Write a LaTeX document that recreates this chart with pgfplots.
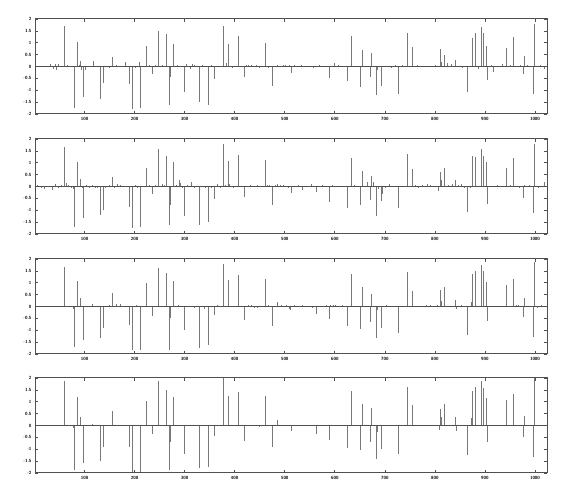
\documentclass[border=0pt]{standalone}
\usepackage{pgfplots}
\pgfplotsset{compat=1.18}
\definecolor{stem}{RGB}{120,120,120}
\definecolor{frame}{RGB}{80,80,80}
\pgfplotsset{
  panel/.style={
    anchor=south west,
    scale only axis,
    width=512pt, height=95pt,
    xmin=1, xmax=1024, ymin=-2, ymax=2,
    xtick={100,200,...,1000},
    ytick={-2,-1.5,...,2},
    tick label style={font=\fontsize{4.5}{5}\selectfont\sffamily\bfseries,
                      /pgf/number format/assume math mode=true},
    yticklabel style={/pgf/number format/fixed},
    xticklabel style={/pgf/number format/1000 sep={}},
    tick align=inside,
    major tick length=3pt,
    axis line style={frame, line width=1pt},
    tick style={frame, line width=0.6pt},
    clip=true,
  },
  stems/.style={ycomb, stem, line width=0.6pt, mark=none},
  base/.style={sharp plot, frame, line width=0.8pt, mark=none},
}
\begin{document}
\begin{tikzpicture}
\path (0,0) rectangle (570pt,483pt);

% ---- panel 1 ----
\begin{axis}[panel, at={(35pt,369pt)}]
\addplot[stems] coordinates {
(31,0.12) (37,-0.1) (41,0.12) (44,-0.15) (47,0.12) (59,1.71) (66,0.05)
(79,-1.74) (85,1.03) (89,0.06) (91,0.25) (93,-0.15) (97,-1.28) (101,-0.15)
(117,0.25) (124,0.04) (131,-1.35) (137,-0.71) (143,0.04) (150,-0.05) (155,0.42)
(163,0.05) (170,-0.04) (181,0.2) (189,-0.75) (195,-1.79) (202,-0.05) (209,0.18)
(211,-1.74) (223,0.88) (229,0.06) (235,-0.3) (241,0.05) (247,1.5) (255,0.05)
(263,1.36) (269,-1.64) (271,-0.45) (277,0.94) (285,0.05) (291,0.04)
(299,-1.07) (303,0.12) (311,-0.1) (315,0.1) (320,0.05) (329,-1.5) (335,0.05)
(341,0.04) (347,-1.64) (353,0.05) (359,-0.54) (365,0.04) (371,-0.04)
(377,1.69) (383,0.15) (387,0.94) (395,-0.05) (401,0.04) (407,1.28)
(419,-0.44) (423,0.07) (428,0.07) (433,0.07) (443,0.07) (450,-0.05)
(461,1.01) (468,-0.05) (476,-0.83) (485,0.05) (497,0.05) (501,0.05) (509,0.05)
(513,-0.28) (520,0.05) (533,0.05) (545,0.04) (557,-0.05) (569,0.05)
(583,0.04) (589,-0.49) (600,0.14) (606,0.05) (615,0.04) (624,-0.63)
(633,1.29) (641,0.04) (650,-0.86) (655,0.69) (661,0.04) (671,-0.46) (672,0.57)
(683,-1.19) (685,-0.15) (693,-0.82) (703,0.04) (712,-0.05) (720,0.05)
(726,-1.15) (734,0.05) (744,1.4) (754,0.81) (764,0.05) (775,0.04) (790,0.04)
(800,0.05) (811,0.74) (812,0.2) (819,0.49) (825,0.15) (832,0.1) (841,0.28)
(847,0.04) (855,-0.05) (865,-1.07) (870,0.04) (875,1.21) (881,1.4) (887,-0.1)
(893,1.67) (897,1.4) (903,0.85) (905,-0.56) (913,0.05) (917,-0.24) (926,0.04)
(934,0.12) (943,0.79) (950,0.05) (957,1.25) (965,0.04) (971,0.05)
(977,-0.32) (979,0.46) (985,0.05) (997,-1.17) (999,1.81) (1010,0.05)
(1019,-0.1)
};
\addplot[base] coordinates {(1,0) (1024,0)};
\end{axis}

% ---- panel 2 ----
\begin{axis}[panel, at={(35pt,249pt)}]
\addplot[stems] coordinates {
(5,0.05) (13,-0.06) (20,-0.1) (27,0.04) (35,-0.15) (41,0.1) (47,-0.08)
(53,0.05) (59,1.68) (63,0.15) (67,0.05) (73,-0.05) (77,-0.1) (79,-1.69)
(85,1.03) (91,0.31) (95,-0.06) (97,-1.34) (103,0.05) (109,-0.05) (115,0.06)
(121,-0.05) (125,-0.06) (131,-1.22) (137,-0.97) (141,-0.05) (149,0.05)
(155,0.39) (160,-0.06) (165,0.1) (171,0.05) (177,0.04) (183,-0.04) (189,-0.87)
(195,-1.73) (201,0.05) (205,-0.05) (211,-1.71) (217,-0.04) (223,0.78)
(229,0.05) (235,-0.31) (241,0.06) (247,1.59) (255,0.1) (259,0.05) (263,1.3)
(269,-1.62) (271,-0.76) (277,1.02) (283,0.05) (289,0.28) (291,0.15)
(295,-0.05) (299,-1.23) (305,0.05) (313,0.2) (320,-0.05) (329,-1.61)
(335,0.04) (341,-0.05) (347,-1.48) (353,-0.05) (359,-0.52) (365,0.1)
(371,-0.05) (377,1.8) (381,0.05) (387,1.06) (389,0.1) (397,-0.05) (407,1.31)
(413,0.04) (419,-0.43) (425,0.04) (431,0.05) (437,-0.04) (445,0.05)
(452,0.04) (461,1.12) (466,0.05) (470,0.05) (476,-0.77) (481,0.05) (485,0.12)
(491,0.05) (497,0.06) (503,0.04) (507,-0.05) (513,-0.27) (520,-0.04)
(527,0.05) (535,-0.15) (545,0.04) (553,0.1) (563,-0.25) (570,0.04)
(576,0.05) (583,-0.04) (589,-0.64) (595,0.05) (605,0.04) (615,-0.04)
(625,-0.9) (633,1.2) (639,0.05) (651,-0.8) (655,0.67) (665,0.2) (671,-0.57)
(672,0.45) (677,0.2) (683,-1.24) (687,-0.1) (693,-0.6) (695,-0.3) (701,-0.05)
(709,0.1) (715,0.04) (726,-0.92) (735,0.04) (744,1.36) (755,0.73) (761,0.05)
(767,-0.05) (775,0.05) (785,0.1) (791,0.05) (807,-0.2) (811,0.63) (813,0.27)
(819,0.78) (827,0.05) (835,0.1) (841,0.27) (847,0.05) (853,0.1) (858,-0.05)
(865,-1.09) (870,-0.05) (875,1.27) (881,1.23) (886,0.04) (893,1.57)
(897,1.3) (903,1.05) (905,-0.73) (915,0.04) (925,0.05) (933,0.04) (938,0.04)
(943,0.77) (950,0.05) (957,1.19) (963,0.04) (969,-0.05) (977,-0.49)
(979,0.05) (983,0.04) (989,0.05) (997,-1.13) (999,1.8) (1006,-0.05)
(1019,0.2)
};
\addplot[base] coordinates {(1,0) (1024,0)};
\end{axis}

% ---- panel 3 ----
\begin{axis}[panel, at={(35pt,129pt)}]
\addplot[stems] coordinates {
(25,0.04) (35,0.04) (45,0.04) (59,1.65) (77,-0.1) (79,-1.72) (85,1.06)
(91,0.35) (97,-1.41) (115,0.1) (131,-1.31) (137,-0.9) (149,0.05) (155,0.56)
(163,0.1) (171,0.1) (177,0.04) (189,-0.77) (195,-1.85) (203,0.05)
(211,-1.82) (223,0.97) (229,0.04) (235,-0.41) (247,1.62) (255,0.04) (263,1.4)
(269,-1.82) (271,-0.5) (277,1.06) (287,0.05) (299,-1.01) (305,0.04)
(319,-0.05) (329,-1.73) (340,-0.1) (347,-1.64) (359,-0.34) (365,0.05)
(377,1.8) (387,1.13) (395,0.04) (407,1.31) (419,-0.57) (427,0.05) (433,0.05)
(439,-0.05) (445,-0.06) (461,1.15) (468,0.05) (476,-0.84) (485,0.18)
(493,0.05) (503,0.05) (509,-0.1) (512,-0.15) (520,0.05) (535,0.05)
(545,0.04) (555,-0.05) (563,-0.31) (575,0.04) (583,0.05) (589,-0.52)
(592,0.08) (597,0.08) (602,0.08) (615,0.05) (625,-0.84) (633,1.37)
(645,0.04) (651,-0.96) (655,0.83) (661,0.04) (671,-0.67) (672,0.52)
(683,-1.34) (685,-0.15) (693,-0.9) (703,0.05) (712,0.04) (726,-1.12)
(735,0.04) (744,1.45) (755,0.67) (765,0.04) (773,0.04) (783,0.05) (791,0.05)
(805,0.05) (811,0.69) (813,0.22) (819,0.84) (829,0.04) (841,0.27)
(843,-0.1) (853,0.08) (865,-1.22) (873,0.2) (875,1.36) (881,1.48) (893,1.75)
(897,1.48) (903,1.02) (905,-0.6) (915,0.04) (925,0.04) (935,0.04) (943,0.9)
(949,-0.04) (957,1.17) (963,0.05) (967,0.05) (977,-0.43) (979,0.34)
(989,0.04) (997,-1.3) (999,1.86) (1005,-0.08) (1013,0.05) (1019,-0.04)
};
\addplot[base] coordinates {(1,0) (1024,0)};
\end{axis}

% ---- panel 4 ----
\begin{axis}[panel, at={(35pt,10pt)}]
\addplot[stems] coordinates {
(59,1.87) (77,-0.1) (79,-1.89) (85,1.22) (91,0.35) (97,-1.57) (115,0.08)
(131,-1.51) (137,-0.92) (155,0.6) (189,-0.9) (195,-1.97) (211,-1.97)
(223,1.02) (235,-0.34) (247,1.89) (263,1.51) (269,-1.86) (271,-0.69)
(277,1.19) (299,-1.2) (329,-1.78) (347,-1.76) (359,-0.46) (377,2.0)
(387,1.23) (407,1.4) (419,-0.64) (449,-0.08) (461,1.26) (476,-0.9)
(485,0.24) (513,-0.25) (563,-0.34) (589,-0.62) (625,-0.94) (633,1.45)
(650,-1.05) (655,0.92) (671,-0.69) (672,0.74) (683,-1.4) (685,-0.27)
(693,-0.97) (726,-1.22) (744,1.64) (755,0.85) (809,-0.2) (811,0.7)
(813,0.34) (819,0.91) (841,0.34) (843,-0.25) (865,-1.26) (873,0.3)
(875,1.45) (881,1.64) (893,1.86) (897,1.58) (903,1.16) (905,-0.71)
(943,1.06) (957,1.33) (977,-0.5) (979,0.39) (997,-1.34) (999,2.0)
};
\addplot[base] coordinates {(1,0) (1024,0)};
\end{axis}
\end{tikzpicture}
\end{document}
